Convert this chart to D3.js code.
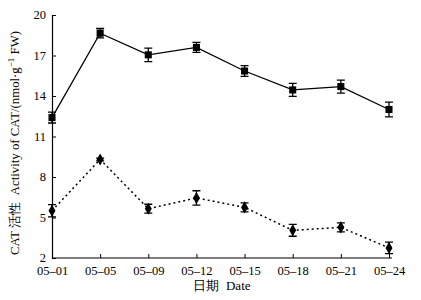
<!DOCTYPE html>
<html>
<head>
<meta charset="utf-8">
<script src="https://cdn.jsdelivr.net/npm/d3@7"></script>
<style>
  html, body { margin: 0; padding: 0; background: #fff; }
  svg text { font-family: "Liberation Serif", "Noto Serif", serif; fill: #000; }
</style>
</head>
<body>
<svg id="chart" width="421" height="300"></svg>
<script>
  var dates = ["05-01", "05-05", "05-09", "05-12", "05-15", "05-18", "05-21", "05-24"];
  var yTicks = [2, 5, 8, 11, 14, 17, 20];

  // square markers, solid line
  var upperMean = [12.4, 18.65, 17.05, 17.6, 15.85, 14.45, 14.7, 13.0];
  var upperErr = [0.4, 0.35, 0.5, 0.37, 0.4, 0.48, 0.48, 0.55];

  // diamond markers, dotted line
  var lowerMean = [5.5, 9.3, 5.65, 6.45, 5.75, 4.05, 4.27, 2.75];
  var lowerErr = [0.45, 0.1, 0.33, 0.53, 0.33, 0.44, 0.33, 0.43];

  var margin = { top: 15, left: 52, right: 30, bottom: 42 };

  var svg = d3.select("#chart");

  var x = d3.scalePoint()
    .domain(dates)
    .range([margin.left, 389]);

  var y = d3.scaleLinear()
    .domain([2, 20])
    .range([258, 15]);

  // y axis, ticks pointing inward
  var yAxis = svg.append("g")
    .attr("transform", "translate(" + margin.left + ",0)")
    .call(d3.axisRight(y).tickValues(yTicks).tickSize(4).tickFormat(d3.format("d")));
  yAxis.select(".domain").attr("stroke", "#000").attr("stroke-width", 1.2);
  yAxis.selectAll(".tick line").attr("stroke", "#000");
  yAxis.selectAll(".tick text")
    .attr("x", -6)
    .attr("dy", "0.3em")
    .attr("text-anchor", "end")
    .attr("font-size", 12.5);

  // x axis, ticks pointing up
  var xAxis = svg.append("g")
    .attr("transform", "translate(0,258)")
    .call(d3.axisTop(x).tickSize(4).tickSizeOuter(0));
  xAxis.select(".domain")
    .attr("d", "M" + margin.left + ",0H392")
    .attr("stroke", "#000").attr("stroke-width", 1.2);
  xAxis.selectAll(".tick line").attr("stroke", "#000");
  xAxis.selectAll(".tick text")
    .attr("y", 17)
    .attr("font-size", 12.5)
    .text(function (d) { return d.replace("-", "\u2013"); });

  function drawSeries(mean, err, dash, marker) {
    var pts = dates.map(function (d, i) { return { d: d, v: mean[i], e: err[i] }; });

    svg.append("path")
      .datum(pts)
      .attr("fill", "none")
      .attr("stroke", "#000")
      .attr("stroke-width", dash ? 1.5 : 1.3)
      .attr("stroke-dasharray", dash)
      .attr("d", d3.line().x(function (p) { return x(p.d); }).y(function (p) { return y(p.v); }));

    var g = svg.append("g").selectAll("g")
      .data(pts)
      .enter().append("g");

    g.append("path")
      .attr("fill", "none")
      .attr("stroke", "#000")
      .attr("stroke-width", 1.3)
      .attr("d", function (p) {
        var cx = x(p.d), t = y(p.v + p.e), b = y(p.v - p.e);
        return "M" + (cx - 4) + "," + t + "H" + (cx + 4) +
          "M" + cx + "," + t + "V" + b +
          "M" + (cx - 4) + "," + b + "H" + (cx + 4);
      });

    g.append("path")
      .attr("fill", "#000")
      .attr("transform", function (p) { return "translate(" + x(p.d) + "," + y(p.v) + ")"; })
      .attr("d", d3.symbol().type(marker).size(marker === d3.symbolSquare ? 50 : 42));
  }

  drawSeries(upperMean, upperErr, null, d3.symbolSquare);
  drawSeries(lowerMean, lowerErr, "2,3", d3.symbolDiamond);

  // axis titles
  svg.append("text")
    .attr("transform", "translate(19,143) rotate(-90)")
    .attr("text-anchor", "middle")
    .attr("font-size", 12.8)
    .call(function (t) {
      t.append("tspan").text("CAT\u00a0\u6d3b\u6027\u00a0\u00a0Activity of CAT/(nmol\u00b7g");
      t.append("tspan").attr("dy", -5).attr("font-size", 9).text("\u22121");
      t.append("tspan").attr("dy", 5).text("\u00a0FW)");
    });

  svg.append("text")
    .attr("x", 222)
    .attr("y", 290)
    .attr("text-anchor", "middle")
    .attr("font-size", 13)
    .text("\u65e5\u671f\u00a0\u00a0Date");
</script>
</body>
</html>
